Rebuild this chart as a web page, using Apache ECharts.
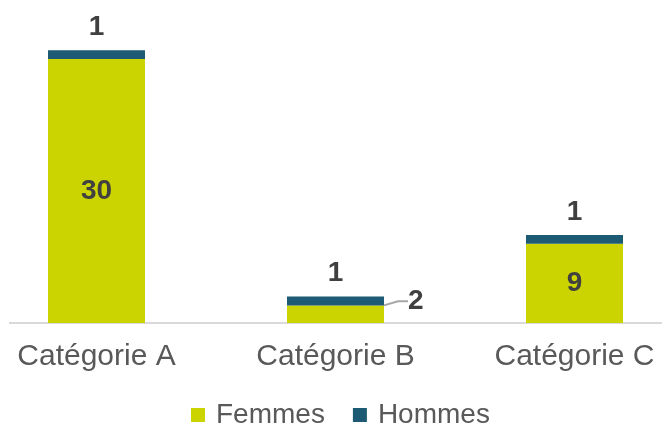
<!DOCTYPE html>
<html>
<head>
<meta charset="utf-8">
<script src="https://cdn.jsdelivr.net/npm/echarts@6/dist/echarts.min.js"></script>
<style>
  html, body { margin: 0; padding: 0; background: #ffffff; }
  #chart { width: 662px; height: 426px; }
</style>
</head>
<body>
<div id="chart"></div>
<script>
// Répartition par catégorie et par sexe
const categories = ['Catégorie A', 'Catégorie B', 'Catégorie C'];
const femmes = [30, 2, 9];
const hommes = [1, 1, 1];
const seriesNames = ['Femmes', 'Hommes'];

const FONT = '"Liberation Sans", Arial, sans-serif';
const COL_F = '#cbd400';
const COL_H = '#1c5b73';
const LABEL_COL = '#404040';

const chart = echarts.init(document.getElementById('chart'), null, { renderer: 'canvas' });

const labelBase = {
  show: true,
  fontFamily: FONT,
  fontSize: 28,
  fontWeight: 'bold',
  color: LABEL_COL
};

// Small segments can't hold their label: push it to the right with a guide line
const femmesData = femmes.map(function (v) {
  if (v < 4) {
    return { value: v, label: { position: 'right', distance: 4 } };
  }
  return v;
});

chart.setOption({
  animation: false,
  backgroundColor: '#ffffff',
  grid: {
    left: -23, right: -32, top: 15, bottom: 103,
    containLabel: false,
    outerBoundsMode: 'none'
  },
  legend: {
    data: seriesNames,
    left: 186,
    top: 396,
    itemWidth: 14,
    itemHeight: 14,
    itemGap: 28,
    icon: 'rect',
    textStyle: { fontFamily: FONT, fontSize: 28, color: '#595959', padding: [0, 0, 0, 6] }
  },
  xAxis: {
    type: 'category',
    data: categories,
    axisLine: { show: false },
    axisTick: { show: false },
    axisLabel: { fontFamily: FONT, fontSize: 30, color: '#595959', margin: 19 }
  },
  yAxis: {
    type: 'value',
    min: 0,
    max: 35,
    show: false,
    splitLine: { show: false }
  },
  series: [
    {
      name: seriesNames[0],
      type: 'bar',
      stack: 'total',
      barWidth: 97,
      data: femmesData,
      itemStyle: { color: COL_F },
      label: Object.assign({ position: 'inside' }, labelBase),
      labelLine: { show: true, length2: 10, lineStyle: { color: '#a6a6a6', width: 2 } },
      labelLayout: function (params) {
        if (femmes[params.dataIndex] < 4) {
          return { dx: 20, dy: -13 };
        }
        return {};
      }
    },
    {
      name: seriesNames[1],
      type: 'bar',
      stack: 'total',
      barWidth: 97,
      data: hommes,
      itemStyle: { color: COL_H },
      label: Object.assign({ position: 'top', distance: 9 }, labelBase)
    }
  ]
});

// Baseline drawn across the plot at the zero value
const y0 = chart.convertToPixel({ yAxisIndex: 0 }, 0);
chart.setOption({
  graphic: [{
    type: 'line',
    shape: { x1: 9, y1: y0, x2: 662, y2: y0 },
    style: { stroke: '#d9d9d9', lineWidth: 2 },
    z: 0
  }]
});
</script>
</body>
</html>
